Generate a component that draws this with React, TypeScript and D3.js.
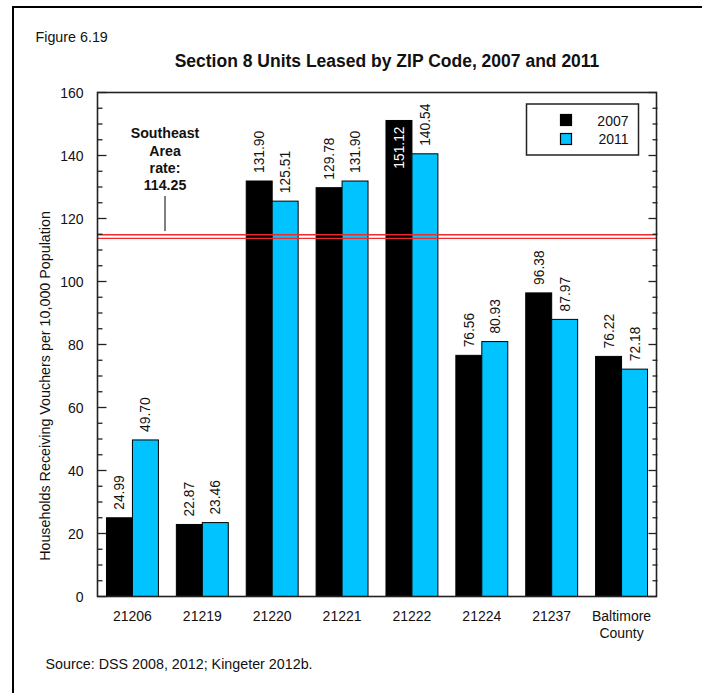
import React from "react";
import * as d3 from "d3";

const categories = ["21206", "21219", "21220", "21221", "21222", "21224", "21237", "Baltimore County"];
const values2007 = [24.99, 22.87, 131.9, 129.78, 151.12, 76.56, 96.38, 76.22];
const values2011 = [49.7, 23.46, 125.51, 131.9, 140.54, 80.93, 87.97, 72.18];
const seriesNames = ["2007", "2011"];
const referenceRate = 114.25;
const yTicks = [0, 20, 40, 60, 80, 100, 120, 140, 160];

const W = 702;
const H = 693;
const M = { left: 97.5, right: 656.5, top: 92.5, bottom: 596.5 };
const FONT = "'Liberation Sans', Arial, sans-serif";
const BLUE = "#00C3FF";
const RED = "#EE2A2A";
const FS = 14;

export default function App() {
  const x = d3.scaleBand<string>().domain(categories).range([M.left, M.right]).paddingInner(0.257).paddingOuter(0.1285);
  const xs = d3.scaleBand<string>().domain(seriesNames).range([0, x.bandwidth()]);
  const y = d3.scaleLinear().domain([0, 160]).range([M.bottom, M.top]);
  const minor = d3.range(0, 161, 5).filter((v) => v % 20 !== 0);
  const data = categories.map((c, i) => ({ c, vals: [values2007[i], values2011[i]] }));
  const fills = ["#000", BLUE];
  const yr = y(referenceRate);
  const annX = 165;

  return (
    <svg width={W} height={H} style={{ position: "absolute", left: 0, top: 0, background: "#fff" }} fontFamily={FONT}>
      {/* outer frame */}
      <line x1={13} y1={7} x2={13} y2={H} stroke="#000" strokeWidth={2} />
      <line x1={12} y1={7} x2={W} y2={7} stroke="#000" strokeWidth={2} />

      <text x={35.5} y={41.5} fontSize={14.3} fill="#111">Figure 6.19</text>
      <text x={387} y={67} fontSize={17.5} fontWeight="bold" textAnchor="middle" fill="#111">
        Section 8 Units Leased by ZIP Code, 2007 and 2011
      </text>

      {/* bars */}
      {data.map((d) => (
        <g key={d.c} transform={`translate(${x(d.c)},0)`}>
          {d.vals.map((v, j) => {
            const bx = xs(seriesNames[j])!;
            const bw = xs.bandwidth();
            const top = y(v);
            return (
              <rect key={j} x={bx} y={top} width={bw} height={M.bottom - top} fill={fills[j]} stroke="#000" strokeWidth={1} />
            );
          })}
        </g>
      ))}

      {/* value labels */}
      {data.map((d) =>
        d.vals.map((v, j) => {
          const cx = x(d.c)! + xs(seriesNames[j])! + xs.bandwidth() / 2;
          const top = y(v);
          const inside = top - 50 < M.top;
          const ty = inside ? top + 6 : top - 8;
          return (
            <text
              key={d.c + j}
              transform={`translate(${cx},${ty}) rotate(-90)`}
              fontSize={13.8}
              dy="0.36em"
              textAnchor={inside ? "end" : "start"}
              fill={inside ? "#fff" : "#111"}
            >
              {v.toFixed(2)}
            </text>
          );
        })
      )}

      {/* reference double line */}
      <line x1={M.left} x2={M.right} y1={yr - 1.8} y2={yr - 1.8} stroke={RED} strokeWidth={1.4} />
      <line x1={M.left} x2={M.right} y1={yr + 1.8} y2={yr + 1.8} stroke={RED} strokeWidth={1.4} />

      {/* annotation */}
      <g fontSize={14.2} fontWeight="bold" textAnchor="middle" fill="#111">
        <text x={annX} y={138}>Southeast</text>
        <text x={annX} y={155.5}>Area</text>
        <text x={annX} y={172.5}>rate:</text>
        <text x={annX} y={190}>{referenceRate.toFixed(2)}</text>
      </g>
      <line x1={annX} x2={annX} y1={196} y2={231} stroke="#000" strokeWidth={1} />

      {/* plot frame */}
      <rect x={M.left} y={M.top} width={M.right - M.left} height={M.bottom - M.top} fill="none" stroke="#222" strokeWidth={1.6} />

      {/* ticks */}
      {yTicks.map((t) => (
        <g key={"t" + t}>
          <line x1={M.left} x2={M.left + 9} y1={y(t)} y2={y(t)} stroke="#222" strokeWidth={1.3} />
          <line x1={M.right} x2={M.right - 8} y1={y(t)} y2={y(t)} stroke="#222" strokeWidth={1.3} />
          <text x={83.5} y={y(t)} dy="0.36em" fontSize={FS} textAnchor="end" fill="#111">{t}</text>
        </g>
      ))}
      {minor.map((t) => (
        <g key={"m" + t}>
          <line x1={M.left} x2={M.left + 5} y1={y(t)} y2={y(t)} stroke="#222" strokeWidth={1.3} />
          <line x1={M.right + 1} x2={M.right - 4} y1={y(t)} y2={y(t)} stroke="#222" strokeWidth={1.3} />
        </g>
      ))}

      {/* x labels */}
      {categories.map((c) => {
        const cx = x(c)! + x.bandwidth() / 2;
        const parts = c === "Baltimore County" ? ["Baltimore", "County"] : [c];
        return (
          <text key={c} x={cx} y={621} fontSize={FS} textAnchor="middle" fill="#111">
            {parts.map((p, i) => (
              <tspan key={i} x={cx} dy={i === 0 ? 0 : 16.5}>{p}</tspan>
            ))}
          </text>
        );
      })}

      {/* y title */}
      <text transform={`translate(49.5,386) rotate(-90)`} fontSize={14.3} textAnchor="middle" fill="#111">
        Households Receiving Vouchers per 10,000 Population
      </text>

      {/* legend */}
      <rect x={526.5} y={104} width={112} height={51} fill="#fff" stroke="#222" strokeWidth={1.5} />
      {seriesNames.map((s, i) => (
        <g key={s}>
          <rect x={560.5} y={114.5 + i * 19} width={11} height={11} fill={fills[i]} stroke="#000" strokeWidth={1.2} />
          <text x={628.5} y={125.5 + i * 18.5} fontSize={FS} textAnchor="end" fill="#111">{s}</text>
        </g>
      ))}

      <text x={45.5} y={669} fontSize={14.3} fill="#111">Source: DSS 2008, 2012; Kingeter 2012b.</text>
    </svg>
  );
}
